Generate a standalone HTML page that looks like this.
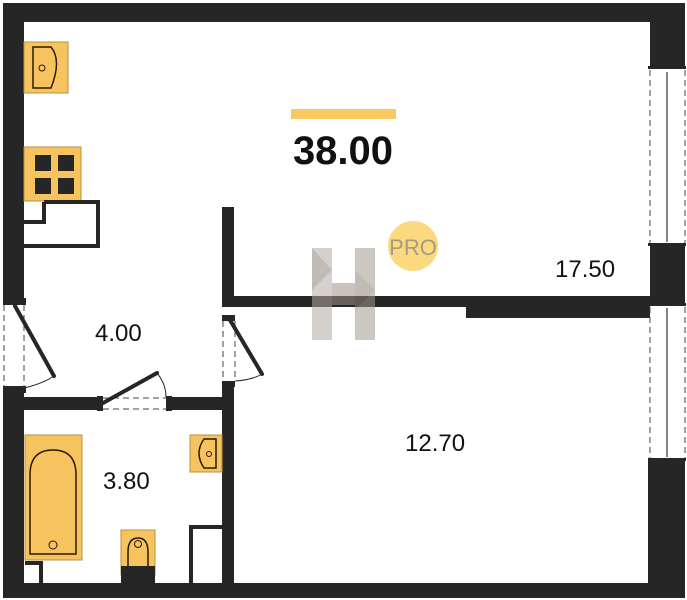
<!DOCTYPE html>
<html><head><meta charset="utf-8"><style>
html,body{margin:0;padding:0;background:#fff;}
svg{display:block;}
text{font-family:"Liberation Sans",sans-serif;}
</style></head><body>
<svg width="687" height="600" viewBox="0 0 687 600" xmlns="http://www.w3.org/2000/svg">
<rect width="687" height="600" fill="#fff"/>
<g fill="#262626">
<rect x="3" y="3" width="682" height="19"/>
<rect x="3" y="3" width="21" height="302"/>
<rect x="3" y="388" width="21" height="210"/>
<rect x="3" y="583" width="682" height="15"/>
<rect x="650" y="3" width="35" height="65"/>
<rect x="650" y="245" width="35" height="60"/>
<rect x="648" y="460" width="37" height="138"/>
<rect x="222" y="296" width="428" height="11"/>
<rect x="466" y="296" width="184" height="22"/>
<rect x="222" y="207" width="12" height="98"/>
<rect x="222" y="385" width="12" height="200"/>
<rect x="3" y="397" width="97" height="13"/>
<rect x="170" y="397" width="56" height="13"/>
<rect x="97" y="396" width="6" height="15"/>
<rect x="166" y="396" width="6" height="15"/>
<rect x="3" y="298" width="23" height="7"/>
<rect x="3" y="386" width="23" height="7"/>
<rect x="222" y="315" width="13" height="6"/>
<rect x="222" y="381" width="13" height="6"/>
<rect x="648" y="66" width="38" height="3"/>
<rect x="648" y="243" width="38" height="3"/>
<rect x="648" y="303" width="38" height="3"/>
<rect x="648" y="458" width="38" height="3"/>
</g>
<g stroke="#444" stroke-width="1" stroke-dasharray="6,4" fill="none">
<line x1="650" y1="70" x2="650" y2="243"/><line x1="685" y1="70" x2="685" y2="243"/>
<line x1="650" y1="307" x2="650" y2="458"/><line x1="685" y1="307" x2="685" y2="458"/>
<line x1="4" y1="305" x2="4" y2="388"/><line x1="24" y1="305" x2="24" y2="388"/>
<line x1="223" y1="321" x2="223" y2="381"/><line x1="235" y1="321" x2="235" y2="381"/>
<line x1="103" y1="398" x2="166" y2="398"/><line x1="103" y1="409" x2="166" y2="409"/>
</g>
<g stroke="#333" stroke-width="1.2">
<line x1="667" y1="72" x2="667" y2="242"/><line x1="667" y1="308" x2="667" y2="457"/>
</g>
<g stroke="#262626" stroke-width="4" stroke-linecap="round">
<line x1="15" y1="306" x2="54" y2="376"/>
<line x1="230" y1="320" x2="262" y2="374"/>
<line x1="103" y1="403" x2="157" y2="373"/>
</g>
<g stroke="#262626" stroke-width="1" fill="none">
<path d="M24 388 Q42 384 54 376"/>
<path d="M235 381 Q252 380 262 374"/>
<path d="M157 373 Q166 384 166 397"/>
</g>
<rect x="24" y="42" width="44" height="51" fill="#f6c35e" stroke="#b8923f" stroke-width="1"/>
<path d="M33 47 H51 Q62 60 51 88 H33 Z" fill="none" stroke="#2a1a0a" stroke-width="1.5"/>
<circle cx="42" cy="68" r="3" fill="none" stroke="#2a1a0a" stroke-width="1"/>
<rect x="24" y="147" width="57" height="54" fill="#f6c35e" stroke="#b8923f"/>
<g fill="#262626"><rect x="35" y="155" width="16" height="16"/><rect x="58" y="155" width="16" height="16"/><rect x="35" y="178" width="16" height="16"/><rect x="58" y="178" width="16" height="16"/></g>
<path d="M44 202 H98 V246 H24 M24 222 H44 V202" fill="none" stroke="#262626" stroke-width="4"/>
<rect x="25" y="435" width="57" height="125" fill="#f6c35e" stroke="#b8923f"/>
<path d="M30 554 V475 Q30 450 53 450 Q76 450 76 475 V554 Z" fill="none" stroke="#2a1a0a" stroke-width="1.5"/>
<circle cx="53" cy="545" r="4" fill="none" stroke="#2a1a0a"/>
<path d="M25 563 H41 V583" fill="none" stroke="#262626" stroke-width="4"/>
<rect x="190" y="435" width="32" height="37" fill="#f6c35e" stroke="#b8923f"/>
<path d="M216 439 H204 Q194 453 204 468 H216 Z" fill="none" stroke="#2a1a0a" stroke-width="1.5"/>
<circle cx="209" cy="454" r="2.5" fill="none" stroke="#2a1a0a"/>
<rect x="121" y="530" width="34" height="45" fill="#f6c35e" stroke="#b8923f"/>
<rect x="121" y="566" width="34" height="17" fill="#262626"/>
<path d="M128 566 V552 Q128 538 138 538 Q148 538 148 552 V566" fill="none" stroke="#2a1a0a" stroke-width="1.5"/>
<circle cx="138" cy="544" r="3.5" fill="none" stroke="#2a1a0a"/>
<path d="M191 583 V527 H222" fill="none" stroke="#262626" stroke-width="4"/>
<g opacity="0.55">
<rect x="312" y="248" width="20" height="92" fill="#b5aaa3"/>
<rect x="355" y="248" width="20" height="92" fill="#a59a92"/>
<rect x="332" y="283" width="23" height="22" fill="#9d928a"/>
<polygon points="312,248 332,270 312,290" fill="#8f847c"/>
<polygon points="355,270 375,290 355,310" fill="#8f847c"/>
</g>
<rect x="291" y="109" width="105" height="10" fill="#f9c85f"/>
<text x="343" y="164" font-size="40" font-weight="bold" text-anchor="middle" fill="#111">38.00</text>
<circle cx="413" cy="246" r="25" fill="#fbd97f"/>
<text x="413" y="255" font-size="22" text-anchor="middle" fill="#a89a82">PRO</text>
<g font-size="24" fill="#111">
<text x="555" y="277">17.50</text>
<text x="95" y="341">4.00</text>
<text x="405" y="451">12.70</text>
<text x="103" y="489">3.80</text>
</g>
</svg>
</body></html>
